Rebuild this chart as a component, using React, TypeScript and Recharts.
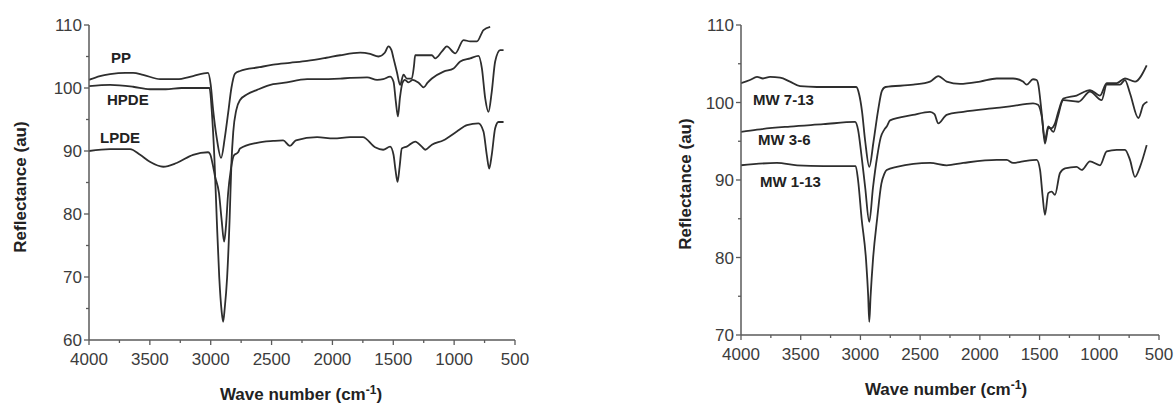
import React from "react";
import { LineChart, Line, XAxis, YAxis } from "recharts";

// ---------- Left panel: polymer standards ----------
const ppWave = [4000, 3910, 3827, 3700, 3638, 3556, 3416, 3277, 3145, 3022, 3000, 2980, 2950, 2915, 2885, 2857, 2830, 2800, 2759, 2600, 2487, 2350, 2208, 2050, 1937, 1772, 1690, 1622, 1570, 1540, 1515, 1498, 1470, 1444, 1416, 1389, 1348, 1330, 1320, 1183, 1156, 1100, 1060, 991, 923, 868, 813, 759, 704];
const ppValue = [101.3, 101.9, 102.2, 102.4, 102.4, 102.1, 101.4, 101.4, 101.9, 102.4, 100.5, 96.5, 92, 88.9, 92, 96, 100, 102.3, 102.7, 103.3, 103.7, 104.0, 104.3, 104.8, 105.2, 105.6, 105.4, 105.0, 105.6, 106.6, 106.0, 104.7, 102.5, 100.5, 102.1, 101.5, 101.5, 103.5, 105.2, 105.2, 104.7, 105.8, 106.6, 105.5, 107.6, 107.4, 107.4, 109.2, 109.7];

const hpdeWave = [4000, 3827, 3638, 3500, 3370, 3240, 3010, 2990, 2970, 2950, 2930, 2910, 2898, 2885, 2865, 2845, 2830, 2815, 2790, 2759, 2700, 2619, 2487, 2405, 2208, 2126, 1937, 1855, 1715, 1633, 1583, 1526, 1498, 1480, 1462, 1445, 1425, 1405, 1375, 1340, 1290, 1250, 1220, 1183, 1087, 1005, 950, 868, 800, 772, 745, 718, 691, 663, 622, 594];
const hpdeValue = [100.3, 100.5, 100.2, 99.8, 99.8, 100.0, 100.0, 96, 89, 79, 70, 64.5, 62.9, 65, 70, 79, 88, 93, 96.5, 98.1, 99.0, 99.7, 100.6, 100.8, 101.4, 101.4, 101.5, 101.6, 101.7, 101.3, 101.4, 101.8, 101.0, 98, 95.5, 98.5, 100.8, 101.3, 100.9, 101.3, 100.8, 100.1, 100.8, 101.5, 102.6, 103.1, 104.2, 104.7, 105.1, 103.1, 98.4, 96.2, 99.4, 104.2, 106.0, 106.0];

const lpdeWave = [4000, 3827, 3663, 3580, 3500, 3390, 3280, 3145, 3022, 3005, 2985, 2965, 2932, 2910, 2890, 2875, 2857, 2835, 2810, 2775, 2759, 2619, 2487, 2405, 2350, 2300, 2126, 1990, 1855, 1750, 1650, 1583, 1526, 1498, 1482, 1465, 1448, 1430, 1389, 1320, 1266, 1238, 1183, 1087, 978, 895, 800, 759, 732, 712, 691, 663, 636, 594];
const lpdeValue = [90.0, 90.3, 90.3, 89.4, 88.3, 87.5, 88.1, 89.4, 89.8, 89.5, 88, 86, 83.3, 79, 75.6, 78, 83.3, 87, 89.3, 89.8, 90.4, 91.3, 91.6, 91.7, 90.8, 91.7, 92.2, 92.0, 92.2, 92.2, 90.6, 90.2, 90.7, 89.4, 87, 85.1, 87.5, 90.4, 90.7, 91.5, 90.7, 90.2, 91.0, 91.7, 93.1, 94.1, 94.4, 93.1, 89.4, 87.2, 89.4, 93.6, 94.6, 94.6];

// ---------- Right panel: MW samples ----------
const mw713Wave = [4000, 3925, 3866, 3816, 3757, 3673, 3590, 3506, 3364, 3171, 3035, 3010, 2987, 2960, 2926, 2890, 2853, 2820, 2790, 2557, 2417, 2348, 2278, 2166, 1999, 1859, 1722, 1639, 1608, 1555, 1524, 1513, 1482, 1455, 1427, 1399, 1371, 1343, 1301, 1190, 1078, 994, 938, 854, 785, 701, 603];
const mw713Value = [102.5, 102.9, 103.3, 103.1, 103.3, 103.2, 102.7, 102.1, 102.0, 102.0, 102.0, 101, 98.9, 95, 91.7, 95, 98.9, 101.5, 102.0, 102.3, 102.7, 103.4, 102.7, 102.4, 102.7, 103.1, 103.1, 102.7, 102.3, 103.0, 102.9, 102.5, 98.6, 94.7, 96.7, 96.7, 97.3, 98.8, 100.5, 100.9, 101.6, 100.9, 102.5, 102.5, 103.1, 102.7, 104.8];

const mw36Wave = [4000, 3866, 3590, 3310, 3045, 3020, 2990, 2960, 2926, 2895, 2860, 2830, 2800, 2780, 2752, 2560, 2417, 2380, 2348, 2278, 2139, 1859, 1748, 1555, 1513, 1482, 1455, 1427, 1384, 1350, 1301, 1175, 1078, 980, 938, 827, 785, 743, 673, 631, 597];
const mw36Value = [96.2, 96.5, 96.9, 97.2, 97.5, 96.5, 93, 89, 84.6, 89, 93, 95.5, 96.5, 96.9, 97.7, 98.4, 98.8, 98.5, 97.3, 98.4, 98.8, 99.3, 99.5, 99.9, 99.7, 98.2, 95.2, 96.9, 96.2, 98, 100.3, 100.1, 101.4, 100.3, 102.3, 102.3, 102.9, 101.2, 98.0, 99.7, 100.1];

const mw113Wave = [4000, 3700, 3530, 3310, 3040, 3020, 2990, 2953, 2935, 2926, 2915, 2895, 2860, 2825, 2800, 2780, 2696, 2417, 2278, 2139, 1859, 1775, 1722, 1639, 1524, 1496, 1475, 1455, 1427, 1399, 1371, 1329, 1287, 1190, 1148, 1078, 994, 938, 854, 785, 743, 701, 659, 603];
const mw113Value = [91.9, 92.2, 91.9, 91.8, 91.8, 90, 85, 79.7, 75, 71.7, 75, 79.7, 85, 89.5, 90.8, 91.3, 91.7, 92.2, 91.9, 92.2, 92.6, 92.6, 92.2, 92.4, 92.6, 91.3, 88, 85.5, 88.3, 88.5, 88.1, 90.9, 91.5, 91.7, 91.3, 92.4, 91.9, 93.7, 93.9, 93.9, 92.6, 90.4, 91.7, 94.5];

// ---------- Axis ticks ----------
const xTicks = [500, 750, 1000, 1250, 1500, 1750, 2000, 2250, 2500, 2750, 3000, 3250, 3500, 3750, 4000];
const leftYTicks = [60, 65, 70, 75, 80, 85, 90, 95, 100, 105, 110];
const rightYTicks = [70, 75, 80, 85, 90, 95, 100, 105, 110];

const zip = (w: number[], v: number[]) => w.map((x, i) => ({ w: x, v: v[i] }));

const AXIS = "#5a5a5a";
const LINE = "#2e2e2e";
const TICK_FONT = "'Liberation Sans', Arial, sans-serif";

const XTick = (props: any) => {
  const { x, y, payload } = props;
  const major = payload.value % 500 === 0;
  return (
    <g>
      <line x1={x} x2={x} y1={y} y2={y + (major ? 5 : 3)} stroke={AXIS} strokeWidth={1.3} />
      {major && (
        <text x={x} y={y + 25} textAnchor="middle" fontSize={17} fill="#3c3c3c" fontFamily={TICK_FONT}>
          {payload.value}
        </text>
      )}
    </g>
  );
};

const YTick = (props: any) => {
  const { x, y, payload } = props;
  const major = payload.value % 10 === 0;
  return (
    <g>
      <line x1={x - (major ? 5 : 3)} x2={x} y1={y} y2={y} stroke={AXIS} strokeWidth={1.3} />
      {major && (
        <text x={x - 7} y={y} dy="0.36em" textAnchor="end" fontSize={17} fill="#3c3c3c" fontFamily={TICK_FONT}>
          {payload.value}
        </text>
      )}
    </g>
  );
};

type Series = { key: string; data: { w: number; v: number }[] };

const Panel = ({ series, yDomain, yTicks, width, yAxisWidth, margin }: any) => (
  <LineChart width={width} height={405} margin={margin}>
    <XAxis
      type="number"
      dataKey="w"
      domain={[500, 4000]}
      reversed
      ticks={xTicks}
      interval={0}
      allowDataOverflow
      tick={<XTick />}
      tickSize={0}
      tickMargin={0}
      tickLine={false}
      height={30}
      axisLine={{ stroke: AXIS, strokeWidth: 1.5 }}
    />
    <YAxis
      type="number"
      dataKey="v"
      domain={yDomain}
      ticks={yTicks}
      interval={0}
      allowDataOverflow
      tick={<YTick />}
      tickSize={0}
      tickMargin={0}
      tickLine={false}
      width={yAxisWidth}
      axisLine={{ stroke: AXIS, strokeWidth: 1.5 }}
    />
    {series.map((s: Series) => (
      <Line
        key={s.key}
        data={s.data}
        dataKey="v"
        type="monotone"
        stroke={LINE}
        strokeWidth={1.8}
        dot={false}
        activeDot={false}
        isAnimationActive={false}
      />
    ))}
  </LineChart>
);

const labelStyle: React.CSSProperties = {
  position: "absolute",
  fontFamily: TICK_FONT,
  fontWeight: "bold",
  fontSize: 15,
  lineHeight: "16px",
  color: "#222",
  whiteSpace: "nowrap",
};

const titleStyle: React.CSSProperties = {
  position: "absolute",
  fontFamily: TICK_FONT,
  fontWeight: "bold",
  fontSize: 17,
  lineHeight: "18px",
  color: "#222",
  whiteSpace: "nowrap",
};

const XTitle = ({ cx, top }: { cx: number; top: number }) => (
  <div style={{ ...titleStyle, left: cx, top, transform: "translateX(-50%)" }}>
    Wave number (cm<sup style={{ fontSize: 12, verticalAlign: "6px", lineHeight: 0 }}>-1</sup>)
  </div>
);

const YTitle = ({ cx, cy }: { cx: number; cy: number }) => (
  <div style={{ ...titleStyle, left: cx, top: cy, transform: "translate(-50%, -50%) rotate(-90deg)" }}>
    Reflectance (au)
  </div>
);

export default function App() {
  const left: Series[] = [
    { key: "PP", data: zip(ppWave, ppValue) },
    { key: "HPDE", data: zip(hpdeWave, hpdeValue) },
    { key: "LPDE", data: zip(lpdeWave, lpdeValue) },
  ];
  const right: Series[] = [
    { key: "MW 7-13", data: zip(mw713Wave, mw713Value) },
    { key: "MW 3-6", data: zip(mw36Wave, mw36Value) },
    { key: "MW 1-13", data: zip(mw113Wave, mw113Value) },
  ];
  return (
    <div style={{ position: "absolute", left: 0, top: 0, width: 1174, height: 405, background: "#fff", overflow: "hidden" }}>
      <div style={{ position: "absolute", left: 0, top: 0 }}>
        <Panel
          series={left}
          yDomain={[60, 110]}
          yTicks={leftYTicks}
          width={540}
          yAxisWidth={89}
          margin={{ top: 25, right: 25, bottom: 35, left: 0 }}
        />
      </div>
      <div style={{ position: "absolute", left: 590, top: 0 }}>
        <Panel
          series={right}
          yDomain={[70, 110]}
          yTicks={rightYTicks}
          width={584}
          yAxisWidth={151}
          margin={{ top: 25, right: 15, bottom: 40, left: 0 }}
        />
      </div>

      <div style={{ ...labelStyle, left: 111, top: 50 }}>PP</div>
      <div style={{ ...labelStyle, left: 107, top: 92 }}>HPDE</div>
      <div style={{ ...labelStyle, left: 100, top: 130 }}>LPDE</div>
      <div style={{ ...labelStyle, left: 753, top: 92 }}>MW 7-13</div>
      <div style={{ ...labelStyle, left: 758, top: 132 }}>MW 3-6</div>
      <div style={{ ...labelStyle, left: 760, top: 174 }}>MW 1-13</div>

      <XTitle cx={301} top={386} />
      <XTitle cx={946} top={381} />
      <YTitle cx={21} cy={187} />
      <YTitle cx={686} cy={184} />
    </div>
  );
}
